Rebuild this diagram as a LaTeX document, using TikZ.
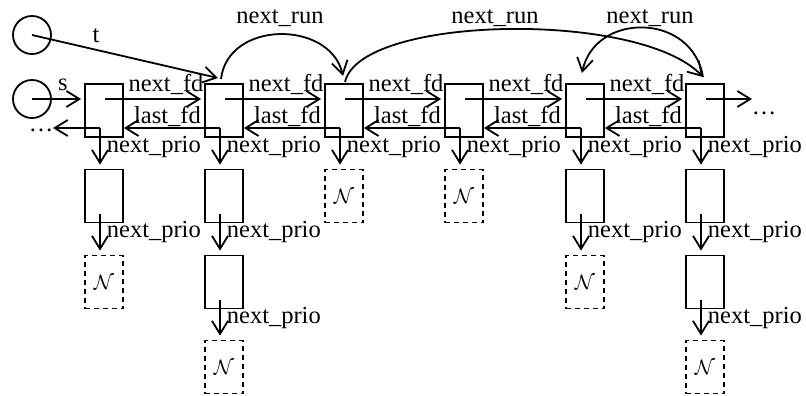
\documentclass[tikz,border=0pt]{standalone}
\usepackage{fontspec}
\setmainfont{Liberation Serif}
\usetikzlibrary{arrows.meta}
\begin{document}
\begin{tikzpicture}[x=1pt,y=-1pt,line width=1.8pt,
  cell/.style={draw,minimum width=38pt,minimum height=53pt,inner sep=0pt},
  nil/.style={cell,dash pattern=on 5pt off 4pt,
    font=\fontsize{20}{24}\selectfont},
  ref/.style={draw,circle,minimum size=38pt,inner sep=0pt},
  lbl/.style={font=\fontsize{24.5}{28}\selectfont,inner sep=0pt,anchor=base},
  lblw/.style={lbl,anchor=base west},
  ptr/.style={-{Straight Barb[length=13pt,width=16pt]}}]
\useasboundingbox (0,0) rectangle (806,396);

% entry pointers
\node[ref] (t) at (32,35) {};
\node[ref] (s) at (32,99) {};

% run list (top row)
\node[cell] (m1) at (104,110.5) {};
\node[cell] (m2) at (224,110.5) {};
\node[cell] (m3) at (344,110.5) {};
\node[cell] (m4) at (464,110.5) {};
\node[cell] (m5) at (585,110.5) {};
\node[cell] (m6) at (705,110.5) {};

% priority chains
\node[cell] (c1a) at (104,196) {};
\node[nil]  (c1b) at (104,282) {$\mathcal{N}$};
\node[cell] (c2a) at (224,196) {};
\node[cell] (c2b) at (224,282) {};
\node[nil]  (c2c) at (224,367) {$\mathcal{N}$};
\node[nil]  (c3a) at (344,196) {$\mathcal{N}$};
\node[nil]  (c4a) at (464,196) {$\mathcal{N}$};
\node[cell] (c5a) at (585,196) {};
\node[nil]  (c5b) at (585,282) {$\mathcal{N}$};
\node[cell] (c6a) at (705,196) {};
\node[cell] (c6b) at (705,282) {};
\node[nil]  (c6c) at (705,367) {$\mathcal{N}$};

% field origins inside the cells
\coordinate (m1f) at (105,99);  \coordinate (m1b) at (100,128);
\coordinate (m2f) at (225,99);  \coordinate (m2b) at (220,128);
\coordinate (m3f) at (345,99);  \coordinate (m3b) at (340,128);
\coordinate (m4f) at (465,99);  \coordinate (m4b) at (460,128);
\coordinate (m5f) at (586,99);  \coordinate (m5b) at (581,128);
\coordinate (m6f) at (706,99);  \coordinate (m6b) at (701,128);
\coordinate (c1ab) at (100,214);
\coordinate (c2ab) at (220,214);
\coordinate (c2bb) at (220,300);
\coordinate (c5ab) at (581,214);
\coordinate (c6ab) at (701,214);
\coordinate (c6bb) at (701,300);
\coordinate (lend) at (53,128);
\coordinate (rend) at (752,99);

% t and s
\draw[ptr] (t.center) -- (218,78) coordinate (tend);
\node[lbl] (tl) at (96,43) {t};
\draw[ptr,shorten >=3pt] (s.center) -- (s.center -| m1.west);
\node[lbl] (sl) at (63,90) {s};

% next_fd / last_fd
\foreach \a/\b in {m1/m2,m2/m3,m3/m4,m4/m5,m5/m6}{
  \draw[ptr,shorten >=3pt] (\a f) -- (\a f -| \b.west);
  \draw[ptr] (\b b) -- (\b b -| \a.east);
}
\foreach \a/\x in {m1/166,m2/286,m3/406,m4/526,m5/647}{
  \node[lbl] (\a nf) at (\x,92) {next\_fd};
  \node[lbl] (\a lf) at (\x+1.5,123) {last\_fd};
}

% open ends
\draw[ptr] (m1b) -- (lend);
\node[lbl] (ldots) at (41,131) {\ldots};
\draw[ptr] (m6f) -- (rend);
\node[lbl] (rdots) at (764,114) {\ldots};

% next_prio
\foreach \a/\b in {m1b/c1a,m2b/c2a,m3b/c3a,m4b/c4a,m5b/c5a,m6b/c6a,
                   c1ab/c1b,c2ab/c2b,c2bb/c2c,c5ab/c5b,c6ab/c6b,c6bb/c6c}{
  \draw[ptr,shorten >=4pt] (\a) -- (\a |- \b.north);
}
\foreach \x/\y [count=\i] in {104/152,224/152,344/152,464/152,585/152,705/152,
                   104/237.5,224/237.5,224/323.5,585/237.5,705/237.5,705/323.5}{
  \node[lblw] (np\i) at (\x+2,\y) {next\_prio};
}

% next_run
\draw[ptr] (221,79) coordinate (r1s) .. controls (228,20) and (330,20) .. (343,76) coordinate (r1e);
\draw[ptr] (345,82) coordinate (r2s) .. controls (360,15) and (640,10) .. (703,77) coordinate (r2e);
\draw[ptr] (r2e) .. controls (692,12) and (595,12) .. (582,73) coordinate (r3e);
\node[lbl] (nr1) at (280,24) {next\_run};
\node[lbl] (nr2) at (495,24) {next\_run};
\node[lbl] (nr3) at (650,24) {next\_run};
\end{tikzpicture}
\end{document}
